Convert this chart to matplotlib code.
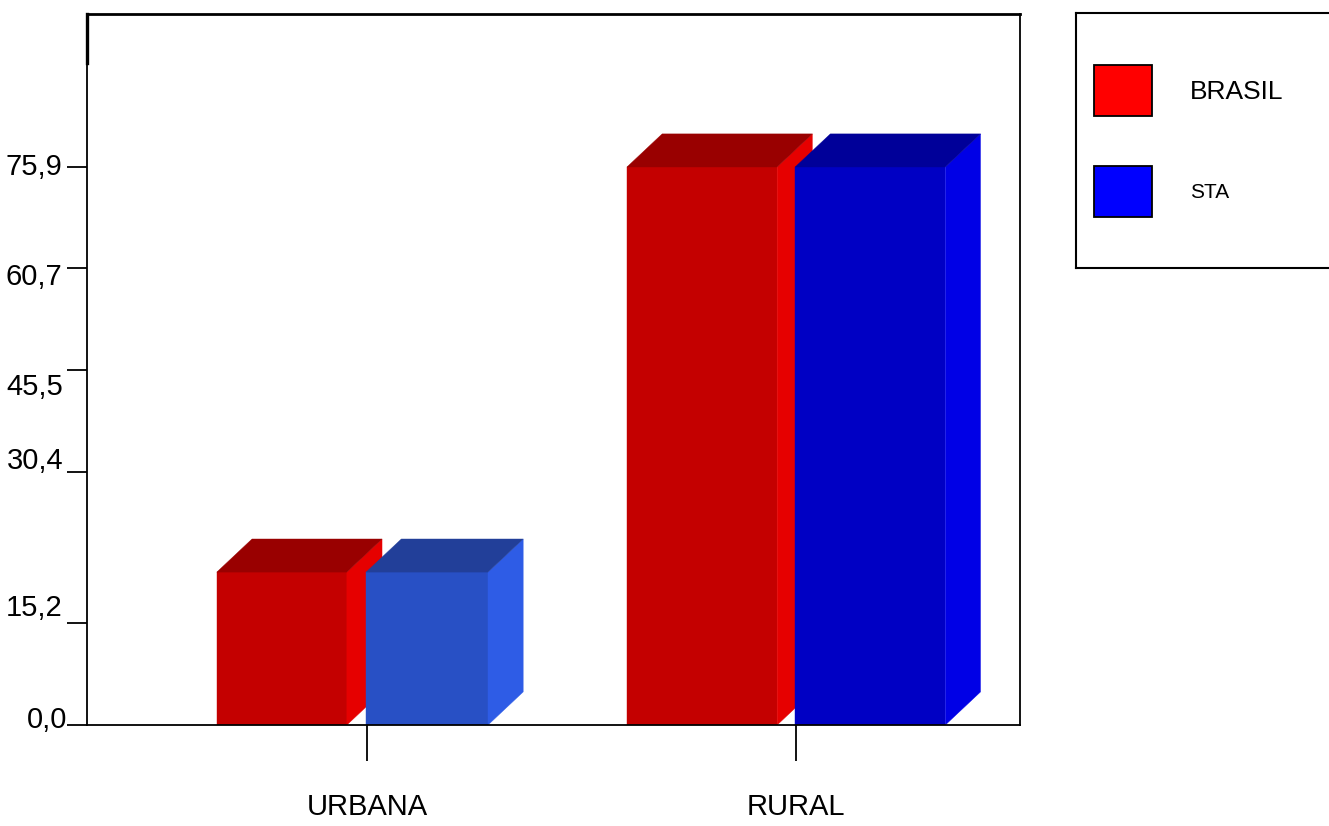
import matplotlib
matplotlib.use("Agg")
import matplotlib.pyplot as plt
from matplotlib.patches import Polygon, Rectangle
from matplotlib.lines import Line2D
import matplotlib.transforms as mtransforms

plt.rcParams['font.family'] = ['Liberation Sans Narrow', 'Liberation Sans', 'DejaVu Sans']

# dados
categorias = ['URBANA', 'RURAL']
series = ['BRASIL', 'STA']
brasil = [20.8, 75.9]
sta = [20.8, 75.9]
ytick_pos = [0.0, 13.87, 34.41, 48.29, 62.16, 75.9]
ytick_labels = ['0,0', '15,2', '30,4', '45,5', '60,7', '75,9']

# cores (frente, lado, topo) por barra
cores_brasil = [('#C40000', '#E60000', '#990000'), ('#C40000', '#E60000', '#990000')]
cores_sta = [('#2850C5', '#2E5CE6', '#223F99'), ('#0000C4', '#0000E6', '#000099')]
cores_legenda = ['#FF0000', '#0000FF']

# geometria das barras (unidades do eixo x)
esq_brasil = [-0.350, -0.394]
larg_brasil = [0.303, 0.350]
esq_sta = [-0.002, -0.002]
larg_sta = [0.284, 0.350]
dx, dy = 0.082, 4.5

fig = plt.figure(figsize=(13.29, 8.26), dpi=100)
ax = fig.add_axes([87/1329, 101/826, 933/1329, 711/826])
ax.set_xlim(-0.6527, 1.5221)
ax.set_ylim(0, 96.71)


def barra3d(x0, w, h, cores):
    frente, lado, topo = cores
    ax.bar(x0, h, width=w, align='edge', color=frente, edgecolor=frente,
           linewidth=0.3, zorder=2)
    x1 = x0 + w
    ax.add_patch(Polygon([(x1, 0), (x1 + dx, dy), (x1 + dx, h + dy), (x1, h)],
                         closed=True, facecolor=lado, edgecolor=lado, lw=0.3, zorder=2))
    ax.add_patch(Polygon([(x0, h), (x0 + dx, h + dy), (x1 + dx, h + dy), (x1, h)],
                         closed=True, facecolor=topo, edgecolor=topo, lw=0.3, zorder=2))


for i in range(len(categorias)):
    barra3d(i + esq_brasil[i], larg_brasil[i], brasil[i], cores_brasil[i])
    barra3d(i + esq_sta[i], larg_sta[i], sta[i], cores_sta[i])

for s in ax.spines.values():
    s.set_linewidth(1.3)
ax.spines['top'].set_linewidth(2)
ax.add_line(Line2D([0, 0], [0.931, 1], transform=ax.transAxes, color='black',
                   lw=2.4, clip_on=False, zorder=5))

ax.set_xticks(range(len(categorias)))
ax.set_xticklabels(categorias, fontsize=21)
ax.tick_params(axis='x', direction='out', length=26, width=1.3, pad=23)

ax.set_yticks(ytick_pos)
ax.set_yticklabels([])
ax.tick_params(axis='y', direction='out', length=14.4, width=1.3)

# rótulos do eixo y, deslocados como no original
desloc_y = [-5, -15, -11, 17, 9, 0]
desloc_x = [-20, -24, -24, -24, -25, -25]
ytrans = ax.get_yaxis_transform()
for p, lab, oy, ox in zip(ytick_pos, ytick_labels, desloc_y, desloc_x):
    t = ytrans + mtransforms.ScaledTranslation(ox / 100, -oy / 100, fig.dpi_scale_trans)
    ax.text(0, p, lab, transform=t, ha='right', va='center', fontsize=21)

# legenda
lax = fig.add_axes([1076/1329, (826-268)/826, 270/1329, 255/826])
lax.set_xlim(0, 270)
lax.set_ylim(255, 0)
lax.set_xticks([])
lax.set_yticks([])
for s in lax.spines.values():
    s.set_linewidth(1.5)
tam_fonte = [19, 15]
for j, (nome, cor) in enumerate(zip(series, cores_legenda)):
    y0 = 52 + j * 101
    lax.add_patch(Rectangle((18, y0), 58, 51, facecolor=cor, edgecolor='black', lw=1.3))
    lax.text(114, y0 + 27, nome, ha='left', va='center', fontsize=tam_fonte[j])

fig.savefig('out.png', dpi=100)
